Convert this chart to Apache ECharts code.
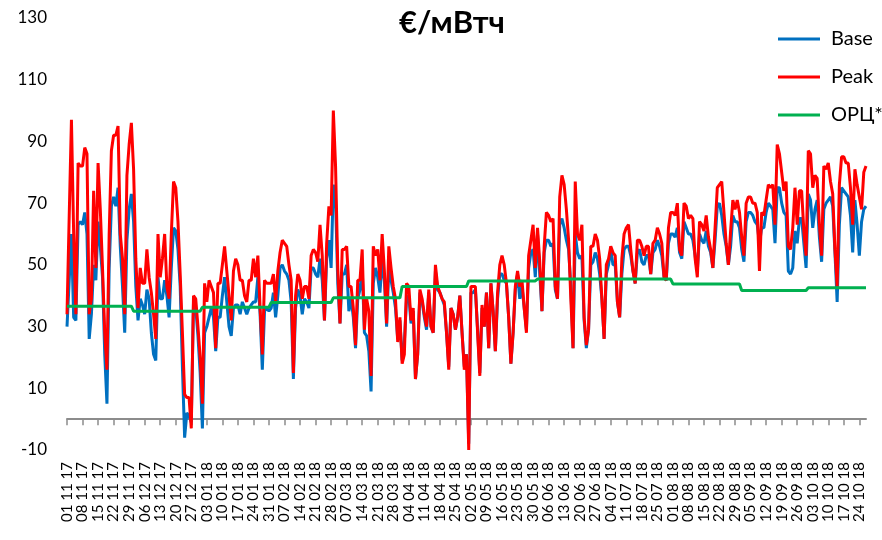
<!DOCTYPE html>
<html lang="ru">
<head>
    <meta charset="UTF-8">
    <title>€/мВтч</title>
    <script src="https://cdn.jsdelivr.net/npm/echarts@6/dist/echarts.min.js"></script>
    <style>
        html, body { margin: 0; padding: 0; background: #fff; }
        #chart { width: 882px; height: 540px; }
    </style>
</head>
<body>
<div id="chart"></div>
<script type="text/javascript">
    // daily prices, 01.11.2017 .. 27.10.2018
    var startDate = [2017, 10, 1];

    var basePrice = [
        30,45,60,33,32,63,64,63,67,60, 26,34,50,45,64,56,46,21,5,49,
        69,72,69,75,56,43,28,58,68,73, 64,43,32,39,37,34,42,39,28,21,
        19,46,39,39,45,40,33,49,62,61, 55,43,17,-6,2,1,-1,38,36,27,
        15,-3,28,30,33,36,33,22,33,33, 40,46,38,30,27,36,37,37,34,38,
        36,34,36,37,38,38,46,34,16,35, 36,35,36,41,33,40,49,50,48,47,
        45,38,13,36,42,40,34,39,38,36, 49,49,47,46,52,45,32,52,58,49,
        76,71,44,31,47,47,50,35,39,33, 23,39,42,49,28,27,22,9,44,49,
        46,41,51,45,30,49,45,41,36,26, 32,19,25,39,40,31,35,13,21,41,
        38,33,29,41,30,28,48,42,41,39, 37,28,17,36,34,29,33,40,28,17,
        21,-8,41,41,42,29,15,36,30,41, 23,44,35,22,39,47,47,45,44,33,
        18,28,42,47,39,43,36,29,49,54, 55,46,60,47,35,54,58,58,56,57,
        42,39,63,65,62,58,55,43,23,60, 54,52,53,32,23,29,50,51,54,52,
        47,39,26,47,50,55,50,50,38,33, 47,55,56,56,53,48,44,54,55,51,
        50,53,53,47,54,55,58,56,53,46, 45,57,60,60,59,62,54,52,64,62,
        60,60,58,53,48,60,58,57,61,56, 54,49,58,69,70,66,60,56,50,56,
        66,64,64,62,55,51,64,67,67,66, 64,63,57,62,62,67,70,69,68,57,
        75,75,70,67,66,48,47,49,61,57, 65,65,57,49,73,71,62,68,71,59,
        51,68,70,71,72,69,54,38,63,75, 74,73,72,66,54,71,63,53,64,68,
        69
    ];

    var peakPrice = [
        34,66,97,60,34,83,82,82,88,86, 34,39,74,49,83,68,49,28,16,60,
        87,92,92,95,60,52,34,79,89,96, 81,52,36,49,44,44,55,46,41,34,
        26,60,46,52,60,43,39,60,77,75, 64,47,28,8,7,7,-3,40,39,30,
        20,5,44,38,45,43,41,23,44,44, 50,56,48,40,32,48,52,50,45,45,
        40,38,45,45,52,46,53,36,21,45, 44,44,44,47,38,48,54,58,57,56,
        50,45,15,40,47,45,39,43,43,39, 53,55,54,51,63,53,32,57,69,66,
        100,82,49,31,55,55,56,43,43,36, 24,45,45,55,29,39,35,14,56,53,
        55,45,60,48,31,56,49,43,39,25, 33,18,21,44,43,32,36,13,21,42,
        39,34,30,42,30,28,50,43,41,39, 38,28,16,36,34,29,33,40,28,16,
        21,-10,43,43,43,28,14,37,30,41, 23,44,35,22,41,50,53,50,44,33,
        18,28,43,48,43,45,36,28,53,58, 63,49,62,51,35,56,67,66,64,65,
        43,39,72,79,76,68,58,39,23,77, 60,58,63,33,24,29,56,56,60,58,
        52,39,26,50,52,56,54,53,38,33, 52,60,62,63,55,48,44,58,58,56,
        53,56,56,47,57,58,62,60,57,46, 45,62,67,67,66,70,55,53,70,69,
        65,66,65,52,46,64,63,61,66,59, 55,49,62,75,76,77,67,57,50,61,
        71,68,71,67,59,53,70,72,72,70, 70,67,48,67,66,71,76,75,76,63,
        89,86,80,74,77,56,55,62,75,63, 74,74,61,53,87,86,75,79,78,63,
        53,82,81,83,77,73,55,43,76,85, 85,83,83,75,63,81,76,72,68,80,
        82
    ];

    // ОРЦ* monthly level, Nov 2017 .. Oct 2018
    var orcMonthly = [36.6, 35.0, 36.3, 37.8, 39.3, 43.0, 44.8, 45.4, 45.4, 43.8, 41.7, 42.6];

    var yTicks = { min: -10, max: 130, interval: 20 };

    function pad(n) { return (n < 10 ? '0' : '') + n; }

    var dates = [];
    var orcPrice = [];
    var d0 = new Date(startDate[0], startDate[1], startDate[2]);
    for (var i = 0; i < basePrice.length; i++) {
        var d = new Date(d0.getFullYear(), d0.getMonth(), d0.getDate() + i);
        dates.push(pad(d.getDate()) + ' ' + pad(d.getMonth() + 1) + ' ' + String(d.getFullYear()).slice(2));
        var m = (d.getFullYear() - d0.getFullYear()) * 12 + d.getMonth() - d0.getMonth();
        orcPrice.push(orcMonthly[m]);
    }

    var chart = echarts.init(document.getElementById('chart'));
    chart.setOption({
        animation: false,
        textStyle: { fontFamily: 'Lato, "Open Sans", sans-serif' },
        title: {
            text: '€/мВтч',
            left: 394,
            top: 2,
            textStyle: { fontSize: 31, fontWeight: 'bold', color: '#000', fontFamily: 'Lato, "Open Sans", sans-serif' }
        },
        legend: {
            orient: 'vertical',
            left: 773,
            top: 24,
            itemWidth: 42,
            itemHeight: 3,
            itemGap: 18,
            icon: 'rect',
            textStyle: { fontSize: 20, color: '#000', padding: [0, 0, 0, 6] },
            data: ['Base', 'Peak', 'ОРЦ*']
        },
        grid: { left: 67, right: 16, top: 18, bottom: 90 },
        xAxis: [{
            type: 'category',
            data: dates,
            boundaryGap: false,
            axisLine: { onZero: true, lineStyle: { color: '#8c8c8c', width: 2 } },
            axisTick: { show: true, interval: 6, length: 6, lineStyle: { color: '#8c8c8c', width: 1.5 } },
            axisLabel: { show: false },
            splitLine: { show: false }
        }, {
            type: 'category',
            data: dates,
            position: 'bottom',
            boundaryGap: false,
            axisLine: { show: false, onZero: false },
            axisTick: { show: false },
            axisLabel: { interval: 6, rotate: 90, fontSize: 15, color: '#000', margin: 12 },
            splitLine: { show: false }
        }],
        yAxis: {
            type: 'value',
            min: yTicks.min,
            max: yTicks.max,
            interval: yTicks.interval,
            axisLine: { show: false },
            axisTick: { show: false },
            splitLine: { show: false },
            axisLabel: { fontSize: 17, color: '#000', margin: 20 }
        },
        series: [{
            name: 'Base',
            type: 'line',
            data: basePrice,
            showSymbol: false,
            lineStyle: { color: '#0070C0', width: 3 },
            itemStyle: { color: '#0070C0' }
        }, {
            name: 'Peak',
            type: 'line',
            data: peakPrice,
            showSymbol: false,
            lineStyle: { color: '#FF0000', width: 3 },
            itemStyle: { color: '#FF0000' }
        }, {
            name: 'ОРЦ*',
            type: 'line',
            data: orcPrice,
            showSymbol: false,
            lineStyle: { color: '#00B050', width: 3 },
            itemStyle: { color: '#00B050' }
        }]
    });
</script>
</body>
</html>
